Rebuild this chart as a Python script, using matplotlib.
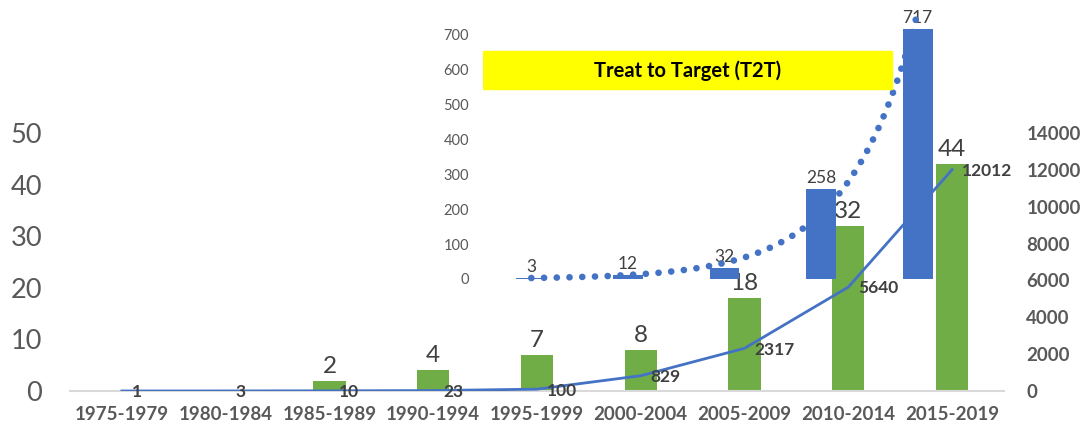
import numpy as np
import matplotlib
matplotlib.use('Agg')
import matplotlib.pyplot as plt
from matplotlib.patches import Rectangle

plt.rcParams['font.family'] = ['Lato', 'DejaVu Sans']

# Main chart data
periods = ['1975-1979', '1980-1984', '1985-1989', '1990-1994', '1995-1999',
           '2000-2004', '2005-2009', '2010-2014', '2015-2019']
green_counts = [None, None, 2, 4, 7, 8, 18, 32, 44]
line_counts = [1, 3, 10, 23, 100, 829, 2317, 5640, 12012]

# Inset chart data (1995-1999 .. 2015-2019)
inset_periods = periods[4:]
inset_counts = [3, 12, 32, 258, 717]

GREEN = '#70AD47'
BLUE = '#4472C4'
GRAY = '#595959'
DARK = '#404040'

W, H = 1087, 429
fig = plt.figure(figsize=(W / 100, H / 100), dpi=100)

# ---- main axes ----
ax = fig.add_axes([70 / W, 38 / H, 934 / W, 258 / H])
x = np.arange(len(periods))
gx = [i for i, v in zip(x, green_counts) if v is not None]
gv = [v for v in green_counts if v is not None]
ax.bar(gx, gv, width=0.31, color=GREEN, zorder=2)
for i, v in zip(gx, gv):
    ax.annotate(str(v), (i, v), xytext=(0, 3), textcoords='offset points',
                ha='center', va='bottom', fontsize=17.5, color=DARK,
                annotation_clip=False)
ax.set_xlim(-0.5, len(periods) - 0.5)
ax.set_ylim(0, 50)
ax.set_yticks(range(0, 51, 10))
ax.set_xticks(x)
ax.set_xticklabels(periods, fontsize=13.5, fontweight='bold', color=GRAY)
ax.tick_params(axis='x', length=0, pad=11)
ax.tick_params(axis='y', length=0, pad=20, labelsize=19.5, labelcolor=GRAY)
for s in ['top', 'right', 'left']:
    ax.spines[s].set_visible(False)
ax.spines['bottom'].set_color('#D9D9D9')
ax.spines['bottom'].set_linewidth(1.5)
ax.patch.set_visible(False)

ax2 = ax.twinx()
ax2.plot(x, line_counts, color=BLUE, lw=2, zorder=3)
for i, v in zip(x, line_counts):
    ax2.annotate(str(v), (i, v), xytext=(7, -1), textcoords='offset points',
                 ha='left', va='center', fontsize=12.5, fontweight='bold',
                 color=DARK, annotation_clip=False)
ax2.set_ylim(0, 14000)
ax2.set_yticks(range(0, 14001, 2000))
ax2.tick_params(axis='y', length=0, pad=16, labelsize=13.5, labelcolor=GRAY)
for lab in ax2.get_yticklabels():
    lab.set_fontweight('bold')
for s in ax2.spines.values():
    s.set_visible(False)

# ---- inset axes ----
ins = fig.add_axes([483 / W, 150 / H, 483 / W, 279 / H])
ins.patch.set_visible(False)
xi = np.arange(len(inset_counts))
ins.bar(xi, inset_counts, width=0.31, color=BLUE, zorder=2)
for i, v in zip(xi, inset_counts):
    ins.annotate(str(v), (i, v), xytext=(0, 2), textcoords='offset points',
                 ha='center', va='bottom', fontsize=12.5, color=DARK,
                 annotation_clip=False)

# exponential trendline fitted on the inset values
b, a = np.polyfit(xi, np.log(inset_counts), 1)
xt = np.linspace(0, len(inset_counts) - 1, 200)
ins.plot(xt, np.exp(a + b * xt), color=BLUE, lw=4.8,
         linestyle=(0, (0.01, 1.9)), dash_capstyle='round', zorder=3,
         clip_on=False)

ins.add_patch(Rectangle((-0.5, 545), 4.23, 109, color='#FFFF00', zorder=4))
ins.text(1.615, 598, 'Treat to Target (T2T)', ha='center', va='center',
         fontsize=14.5, fontweight='bold', color='black', zorder=5)

ins.set_xlim(-0.5, len(inset_counts) - 0.5)
ins.set_ylim(0, 800)
ins.set_yticks(range(0, 701, 100))
ins.set_xticks([])
ins.tick_params(axis='y', length=0, pad=10, labelsize=10.5, labelcolor=GRAY)
for s in ins.spines.values():
    s.set_visible(False)

fig.savefig('out.png', dpi=100)
